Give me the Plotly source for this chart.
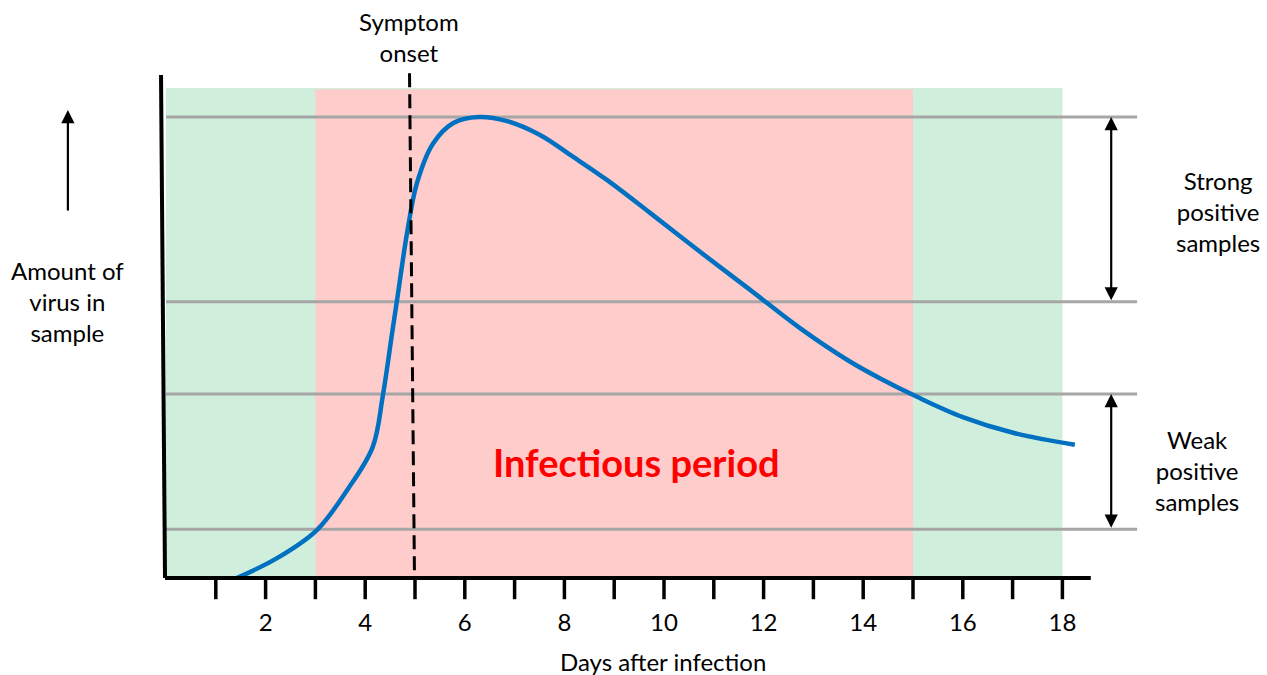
import plotly.graph_objects as go

# ---- data ----
days = [1.42, 2.23, 3.03, 3.64, 4.15, 4.35, 4.54, 4.66, 4.84, 5.04, 5.36, 5.77, 6.28,
        6.85, 7.51, 8.17, 8.86, 9.72, 10.73, 11.73, 12.73, 13.74, 14.39, 15.08, 16.00, 17.01, 18.25]
virus = [0, 4.3, 10.4, 19.1, 28.4, 39.3, 53.1, 61.8, 74.8, 85.7, 94.2, 98.7, 100,
         99.1, 96.1, 91.4, 86.3, 79.2, 70.7, 62.5, 54.2, 46.9, 43.0, 39.3, 34.9, 31.5, 28.9]
thresholds = [100, 59.9, 39.9, 10.6]
tick_days = list(range(1, 19))
label_days = [2, 4, 6, 8, 10, 12, 14, 16, 18]
tick_labels = [str(d) for d in label_days]
symptom_onset_day = 5
infectious_start, infectious_end = 3, 15
window_start, window_end = 0, 18

# ---- pixel-mapped axis ranges ----
PX_PER_DAY = 49.8
X0_PX = 166
PX_PER_UNIT = 4.61
Y0_PX = 578
W, H = 1267, 675
xr = [-X0_PX / PX_PER_DAY, (W - X0_PX) / PX_PER_DAY]
yr = [(Y0_PX - H) / PX_PER_UNIT, Y0_PX / PX_PER_UNIT]

FONT = "Lato"
fig = go.Figure()

shapes = []
top = 106.3
# background regions
shapes.append(dict(type="rect", x0=window_start, x1=window_end, y0=0, y1=top,
                   fillcolor="#D0EEDC", line_width=0, layer="below"))
shapes.append(dict(type="rect", x0=infectious_start, x1=infectious_end, y0=0, y1=top - 0.3,
                   fillcolor="#FFCCCC", line_width=0, layer="below"))
# threshold lines
for t in thresholds:
    shapes.append(dict(type="line", x0=0, x1=19.5, y0=t, y1=t,
                       line=dict(color="#A6A6A6", width=3), layer="below"))
# axes lines
shapes.append(dict(type="line", x0=-0.02, x1=18.57, y0=0, y1=0, line=dict(color="black", width=4)))
shapes.append(dict(type="line", x0=-0.1, x1=-0.02, y0=109.1, y1=0, line=dict(color="black", width=4)))
# ticks
for d in tick_days:
    shapes.append(dict(type="line", x0=d, x1=d, y0=0, y1=-4.6, line=dict(color="black", width=3.5)))
# symptom onset dashed line
shapes.append(dict(type="line", x0=symptom_onset_day - 0.11, x1=symptom_onset_day - 0.01,
                   y0=109.5, y1=0, line=dict(color="black", width=3, dash="14px,7px")))

fig.add_trace(go.Scatter(x=days, y=virus, mode="lines",
                         line=dict(color="#0070C0", width=4.5, shape="spline", smoothing=1.0),
                         hoverinfo="skip", showlegend=False))

fig.add_trace(go.Scatter(x=label_days, y=[-10.2] * len(label_days), mode="text",
                         text=tick_labels, textfont=dict(family=FONT, size=24, color="black"),
                         hoverinfo="skip", showlegend=False))

ann = []
txt = dict(family=FONT, size=24, color="black")
ann.append(dict(x=9.98, y=-18.2, text="Days after infection", showarrow=False, font=txt))
ann.append(dict(x=4.88, y=117.4, text="Symptom<br>onset", showarrow=False, font=txt))
ann.append(dict(x=-1.97, y=59.9, text="Amount of<br>virus in<br>sample", showarrow=False, font=txt))
ann.append(dict(x=21.12, y=79.4, text="Strong<br>positive<br>samples", showarrow=False, font=txt))
ann.append(dict(x=20.7, y=23.4, text="Weak<br>positive<br>samples", showarrow=False, font=txt))
ann.append(dict(x=9.44, y=25.2, text="<b>Infectious period</b>", showarrow=False,
                font=dict(family=FONT, size=38, color="#FF0000")))
# arrows
arrow = dict(showarrow=True, arrowhead=2, arrowsize=1.2, arrowwidth=2.2, arrowcolor="black",
             axref="x", ayref="y", text="")
ann.append(dict(x=-1.97, y=101.5, ax=-1.97, ay=79.4, **arrow))
ann.append(dict(x=18.98, y=thresholds[0], ax=18.98, ay=thresholds[1], arrowside="end+start", **arrow))
ann.append(dict(x=18.98, y=thresholds[2], ax=18.98, ay=thresholds[3], arrowside="end+start", **arrow))

fig.update_layout(
    width=W, height=H, margin=dict(l=0, r=0, t=0, b=0),
    paper_bgcolor="white", plot_bgcolor="white",
    xaxis=dict(range=xr, visible=False, fixedrange=True),
    yaxis=dict(range=yr, visible=False, fixedrange=True),
    shapes=shapes, annotations=ann, showlegend=False,
)
fig.write_html("out.html", config={"displayModeBar": False},
               post_script="document.body.style.margin='0px';document.body.style.overflow='hidden';")
